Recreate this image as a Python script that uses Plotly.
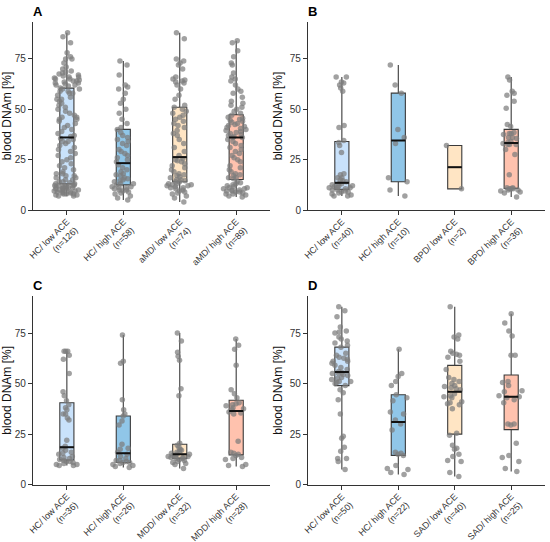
import numpy as np
import plotly.graph_objects as go

# Panel A: HC vs aMD
a_labels = ["HC/ low ACE<br>(n=126)", "HC/ high ACE<br>(n=58)",
            "aMD/ low ACE<br>(n=74)", "aMD/ high ACE<br>(n=89)"]
a_hc_low = [7, 7, 7.5, 7.5, 8, 8, 8, 8.5, 8.5, 9, 9, 9, 9.5, 9.5, 10, 10, 10, 10.5, 10.5, 10.5,
            11, 11, 11, 11.5, 11.5, 11.5, 12, 12, 12, 12.2, 12.4,
            13, 13, 13.5, 14, 14, 15, 15, 16, 16, 17, 17, 18, 18, 19, 20, 21, 22, 23, 24, 25,
            26, 27, 28, 29, 30, 31, 32, 33, 34, 34, 35, 35.5,
            36.5, 37, 38, 39, 40, 41, 42, 43, 44, 45, 45, 46, 46, 47, 48, 49, 50, 51, 52, 53,
            54, 55, 55, 56, 57, 58, 58, 59, 59, 60, 60, 60.5,
            61.5, 62, 62, 62.5, 63, 63, 63.5, 64, 64, 64.5, 65, 65, 65.5, 66, 66, 66.5, 67,
            67.5, 68, 68.5, 69, 70, 71, 73, 75, 75, 76, 78, 83, 86, 88]
a_hc_high = [5, 6, 7, 8, 8.5, 9, 9.5, 10, 10, 10.5, 11, 11, 11.5, 11.5,
             12.5, 13, 13, 14, 14.5, 15, 15.5, 16, 17, 17.5, 18, 19, 20, 21, 22.5,
             24, 25, 26, 27, 28, 29, 30, 32, 33, 34, 35, 36, 37, 38.5,
             40, 41, 43, 45, 48, 50, 53, 55, 58, 60, 61, 62, 67, 72, 74]
a_amd_low = [4, 6, 7, 8, 8.5, 9, 9.5, 10, 10.5, 11, 11, 11.5, 12, 12, 12.5, 12.5, 13, 13,
             14, 14, 14.5, 15, 15, 16, 16.5, 17, 17.5, 18, 19, 20, 21, 22, 23, 24, 24.5, 25, 25.5,
             27, 29, 31, 33, 35, 37, 38, 39.5, 41, 42, 43, 44, 45, 46, 47, 48, 49, 50,
             51, 52, 55, 57, 60, 62, 63, 63.5, 64, 64.5, 65, 66, 70, 72, 73, 74, 75, 85, 88]
a_amd_high = [6.5, 7, 7.5, 8, 8, 8.5, 9, 9, 9.5, 9.5, 10, 10, 10.5, 10.5, 11, 11, 11.5, 12,
              12.5, 13, 13.5, 14,
              15.5, 16, 16, 17, 17.5, 18, 19, 20, 21, 22, 24, 25, 26, 27, 28, 29, 30, 31, 32,
              33, 34, 35,
              36, 36, 36.5, 37, 37.5, 38, 38.5, 39, 39.5, 40, 40.5, 41, 41.5, 42, 42.5, 43,
              43.5, 44, 44.5, 45, 45.5, 46,
              47, 48, 49, 50, 51, 52, 53, 54, 56, 58, 59, 60, 62, 64, 65, 66, 68, 72, 73, 76,
              79, 83, 84]

# Panel B: HC vs BPD
b_labels = ["HC/ low ACE<br>(n=40)", "HC/ high ACE<br>(n=10)",
            "BPD/ low ACE<br>(n=2)", "BPD/ high ACE<br>(n=36)"]
b_hc_low = [7, 7, 7.5, 8, 8.5, 9, 9, 9.5, 10, 10,
            10.5, 11, 11, 11, 11.5, 12, 12, 12.5, 13, 13,
            14, 14.5, 15, 16, 16, 17.5, 18, 28.5, 32, 33.5,
            34.5, 41, 42, 59, 60.5, 62, 63, 63.5, 66, 66]
b_hc_high = [7, 10, 14, 16, 33, 36, 40, 58, 62, 72]
b_bpd_low = [10.5, 32]
b_bpd_high = [6.5, 8.5, 9, 9.5, 10, 10, 10.5, 10.5, 10.5,
              11, 11, 17.5, 27.5, 30, 32.5, 32.5, 32.5, 33,
              33.5, 34, 35.5, 36, 36, 37.5, 38, 38, 38.5,
              41.5, 42.5, 50.5, 54, 57, 58, 59, 64.5, 66]

# Panel C: HC vs MDD
c_labels = ["HC/ low ACE<br>(n=36)", "HC/ high ACE<br>(n=26)",
            "MDD/ low ACE<br>(n=32)", "MDD/ high ACE<br>(n=28)"]
c_hc_low = [9.5, 9.5, 10, 10, 10.5, 11, 11.5, 11.5, 12,
            12.5, 13, 13.5, 14, 15, 15.5, 16, 17, 18,
            19, 22, 32, 33, 35, 35, 37, 38, 39.5,
            41.5, 44, 46, 55, 62, 64, 66, 66, 66]
c_hc_high = [8.5, 9, 9.5, 10, 10.5, 11, 11,
             11.5, 12, 12, 13, 14, 15,
             16, 17.5, 18, 20, 29.5, 31.5, 34,
             35, 37, 42, 60, 61, 74]
c_mdd_low = [8, 10, 10.5, 11, 11.5, 12, 12.5,
             13, 13, 13.5, 13.5, 14, 14, 14, 14.5,
             15, 15, 15.5, 16, 16.5, 17, 17.5, 18.5,
             19.5, 20.5, 44, 47.5, 61.5, 63.5, 65.5, 71, 75]
c_mdd_high = [9, 9.5, 10, 12.5, 13, 13.5, 14.5,
              15, 15.5, 16, 21.5, 35, 35.5, 36,
              37, 37.5, 38, 39, 39.5, 40, 40.5,
              43, 45, 47, 59, 67, 69, 72]

# Panel D: HC vs SAD
d_labels = ["HC/ low ACE<br>(n=50)", "HC/ high ACE<br>(n=22)",
            "SAD/ low ACE<br>(n=40)", "SAD/ high ACE<br>(n=25)"]
d_hc_low = [7.5, 11.5, 13, 13, 16.5, 18.5, 23, 24, 35, 42, 45.5, 47,
            49, 50, 50.5, 51, 51, 52, 52.5, 53, 54, 54.5, 55, 55, 55.5,
            56, 57, 58, 59, 60, 61, 61, 62, 62.5, 63, 64, 65, 68,
            69, 70, 71, 72, 73, 75, 75.5, 76, 78, 83, 86, 88]
d_hc_high = [5, 6, 7.5, 8, 9.5,
             14.5, 15, 15.5, 16, 27, 30,
             32, 35, 36, 41.5, 43,
             44.5, 49, 51, 53.5, 55, 67]
d_sad_low = [4, 6, 11.5, 12, 14, 15, 17.5, 18, 19.5, 24.5,
             25.5, 37.5, 39.5, 40, 40.5, 41, 43, 43.5, 44, 45,
             47, 47.5, 48, 48.5, 49, 50, 51, 52, 53, 57,
             61, 63, 64, 64.5, 65, 66, 72, 73, 74, 88]
d_sad_high = [6.5, 8, 11.5, 13.5, 14.5, 20.5,
              29.5, 30, 30, 40.5, 42, 43, 43.5,
              44, 46, 46.5, 49, 50.5, 51,
              64, 64, 73.5, 76, 80, 84.5]

box_colors = ["#c9e2fb", "#90c6e8", "#ffe5c4", "#ffc2ae"]

panels = [
    ("A", a_labels, [a_hc_low, a_hc_high, a_amd_low, a_amd_high]),
    ("B", b_labels, [b_hc_low, b_hc_high, b_bpd_low, b_bpd_high]),
    ("C", c_labels, [c_hc_low, c_hc_high, c_mdd_low, c_mdd_high]),
    ("D", d_labels, [d_hc_low, d_hc_high, d_sad_low, d_sad_high]),
]

x_domains = [[0.060, 0.491], [0.560, 0.991], [0.060, 0.491], [0.560, 0.991]]
y_domains = [[0.6125, 0.9594], [0.6125, 0.9594], [0.1057, 0.4539], [0.1057, 0.4539]]

box_w = 0.25
font = "Liberation Sans, Arial, sans-serif"

fig = go.Figure()
layout = {}

for p, (letter, labels, groups) in enumerate(panels):
    sfx = "" if p == 0 else str(p + 1)
    xa, ya = "x" + sfx, "y" + sfx

    for i, vals in enumerate(groups):
        # the box itself
        fig.add_trace(go.Box(
            y=vals, x=[i] * len(vals), xaxis=xa, yaxis=ya,
            width=box_w, boxpoints=False, whiskerwidth=0,
            fillcolor=box_colors[i], line=dict(color="#3a3a3a", width=1.1),
            showlegend=False, hoverinfo="skip"))
        # jittered raw points
        fig.add_trace(go.Box(
            y=vals, x=[i] * len(vals), xaxis=xa, yaxis=ya,
            width=0.46, boxpoints="all", jitter=1, pointpos=0,
            fillcolor="rgba(0,0,0,0)", line=dict(color="rgba(0,0,0,0)", width=0),
            marker=dict(color="rgba(125,125,125,0.72)", size=5.5),
            showlegend=False))
        # thick median
        med = float(np.median(vals))
        fig.add_trace(go.Scatter(
            x=[i - box_w / 2, i + box_w / 2], y=[med, med], xaxis=xa, yaxis=ya,
            mode="lines", line=dict(color="#111111", width=2),
            showlegend=False, hoverinfo="skip"))

    layout["xaxis" + sfx] = dict(
        domain=x_domains[p], anchor=ya, range=[-0.6, 3.6], automargin=False,
        tickmode="array", tickvals=[0, 1, 2, 3], ticktext=labels,
        tickangle=-45, ticks="outside", ticklen=4, tickcolor="#333333",
        ticklabelstandoff=-2,
        showline=True, linecolor="#333333", linewidth=1.1,
        showgrid=False, zeroline=False,
        tickfont=dict(family=font, size=9, color="#333333"))
    layout["yaxis" + sfx] = dict(
        domain=y_domains[p], anchor=xa, range=[0, 93.3], automargin=False,
        tickvals=[0, 25, 50, 75], ticks="outside", ticklen=4, tickcolor="#333333",
        showline=True, linecolor="#333333", linewidth=1.1,
        showgrid=False, zeroline=False,
        tickfont=dict(family=font, size=10, color="#333333"),
        title=dict(text="blood DNAm [%]", standoff=4,
                   font=dict(family=font, size=12, color="#111111")))

annotations = []
for p, (letter, labels, groups) in enumerate(panels):
    annotations.append(dict(
        text="<b>" + letter + "</b>", xref="paper", yref="paper",
        x=x_domains[p][0] - 0.003, y=y_domains[p][1] + 0.02,
        xanchor="left", yanchor="middle", showarrow=False,
        font=dict(family=font, size=13, color="#000000")))

fig.update_layout(
    width=550, height=542,
    margin=dict(l=0, r=0, t=0, b=0),
    plot_bgcolor="white", paper_bgcolor="white",
    boxmode="overlay",
    annotations=annotations,
    **layout)

# page body has a default 8px margin, drop it so the figure fills the window
fig.write_html("out.html", config={"displayModeBar": False},
               post_script="document.body.style.margin = '0px';")
